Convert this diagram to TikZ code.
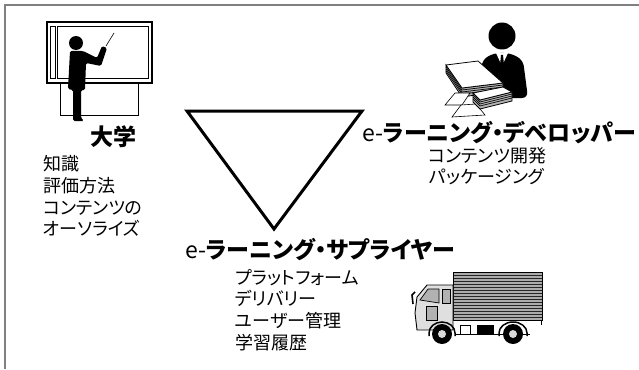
\documentclass[tikz,border=0pt]{standalone}
\usepackage{fontspec}
\newfontfamily\jpfont[RawFeature=+palt]{Noto Sans CJK JP}

\tikzstyle{heading}=[inner sep=0pt,font=\jpfont\bfseries\fontsize{23}{27}\selectfont]
\tikzstyle{items}=[inner sep=0pt,align=left,anchor=west,font=\jpfont\fontsize{18}{21.7}\selectfont]
\tikzstyle{itemsc}=[items,align=center,anchor=center]

\begin{document}
\begin{tikzpicture}[x=1pt,y=-1pt]
			\useasboundingbox (0,0) rectangle (639,369);
			\draw[gray,line width=1.8pt] (5,369) -- (5,5) -- (639,5);
			% triangle
			\draw[line width=3pt] (187,111) -- (362,111) -- (274,229) -- cycle;
			% university: teacher at the board
			\draw[line width=1.3pt] (47,22) rectangle (152,83);
			\draw[line width=0.8pt] (50,26) rectangle (55,78);
			\draw[line width=0.8pt] (57,26) rectangle (148,78);
			\draw[line width=1pt] (60,83) -- (60,115) -- (138,115) -- (138,83);
			\fill (76,43) circle (7);
			\fill[rounded corners=1.5pt] (70,51) -- (83,51) -- (97,58) -- (102,46) -- (107,48) -- (101,66) -- (86,63) -- (85,90) -- (81,90) -- (81,118) -- (84,121) -- (73,121) -- (73,90) -- (68,89) -- cycle;
			\draw[line width=0.6pt] (106,46) -- (114,33);
			% developer: man with paper stacks
			\fill (502,36) circle (13.5);
			\fill[rounded corners=6pt] (480,98) -- (482,60) -- (494,53) -- (510,53) -- (523,60) -- (528,98) -- cycle;
			\fill[white] (496,53) -- (508,53) -- (502,66) -- cycle;
			\fill (501,55) -- (503,55) -- (504,65) -- (502,69) -- (500,65) -- cycle;
			\filldraw[fill=gray!60,draw=black,line width=0.8pt] (446,65) -- (446,73) -- (462,97) -- (503,91) -- (503,83) -- (462,88) -- cycle;
			\foreach \d in {2,4,6} {
				\draw[line width=0.7pt] (446,65+\d) -- (462,88+\d) -- (503,83+\d);
			}
			\filldraw[fill=white,line width=0.8pt] (446,65) -- (478,61) -- (503,83) -- (462,88) -- cycle;
			\filldraw[fill=white,line width=0.6pt] (445,105) -- (455,93) -- (470,93) -- (462,105) -- cycle;
			\filldraw[fill=white,line width=0.6pt] (452,117) -- (461,105) -- (476,104) -- (485,115) -- cycle;
			\filldraw[fill=gray!60,draw=black,line width=0.8pt] (473,93) -- (473,102) -- (480,109) -- (512,101) -- (512,92) -- (480,100) -- cycle;
			\foreach \d in {2,4,6} {
				\draw[line width=0.7pt] (473,93+\d) -- (480,100+\d) -- (512,92+\d);
			}
			\filldraw[fill=white,line width=0.8pt] (473,93) -- (503,87) -- (512,92) -- (480,100) -- cycle;
			% supplier: delivery truck
			\fill[gray!65] (453,272) rectangle (542,320);
			\foreach \y in {275,278,...,318} {
				\draw[gray!30!black,line width=0.6pt] (453,\y) -- (542,\y);
			}
			\draw[line width=1pt] (453,272) rectangle (542,320);
			\draw[line width=1pt] (541,320) -- (541,325);
			\filldraw[fill=gray!25,line width=0.9pt] (415,313) -- (417,297) -- (427,285) -- (453,285) -- (453,330) -- (417,330) -- cycle;
			\filldraw[fill=gray!60,line width=0.7pt] (420,300) -- (428,289) -- (439,289) -- (439,303) -- cycle;
			\filldraw[fill=gray!60,line width=0.7pt] (442,289) rectangle (450,303);
			\filldraw[fill=gray!60,line width=0.7pt] (426,306) rectangle (437,320);
			\draw[line width=1.6pt] (413,304) -- (412,295) -- (415,292);
			\draw[line width=1pt] (455,334) -- (530,334);
			\fill (477,325) rectangle (494,334);
			\draw[line width=0.7pt] (460,325) rectangle (470,334);
			\draw[line width=1.5pt] (429,336) -- (429,333) arc[start angle=180,end angle=360,x radius=13,y radius=11] -- (455,336);
			\draw[line width=1.5pt] (499,336) -- (499,333) arc[start angle=180,end angle=360,x radius=14,y radius=11] -- (527,336);
			\fill (442,334) circle (10);
			\fill[gray!30] (442,334) circle (4);
			\fill (513,334) circle (10);
			\fill[gray!30] (513,334) circle (4);
			% labels
			\node (univ) at (113,137) [heading] {大学};
			\node (univlist) at (43,196) [items] {知識\\評価方法\\コンテンツの\\オーソライズ};
			\node (dev) at (499,133) [heading] {{\mdseries e-}ラーニング・デベロッパー};
			\node (devlist) at (487,166) [itemsc] {コンテンツ開発\\パッケージング};
			\node (sup) at (320,250) [heading] {{\mdseries e-}ラーニング・サプライヤー};
			\node (suplist) at (235,310) [items] {プラットフォーム\\デリバリー\\ユーザー管理\\学習履歴};
		\end{tikzpicture}
\end{document}
